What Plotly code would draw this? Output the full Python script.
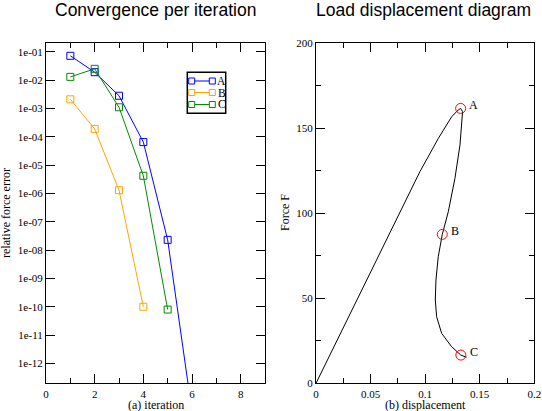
import plotly.graph_objects as go
import numpy as np

# ---- Data: convergence per iteration ----
iter_A = [1, 2, 3, 4, 5, 6]
err_A = [7.2e-2, 1.9e-2, 2.8e-3, 6.5e-5, 2.3e-8, 2.0e-14]
iter_B = [1, 2, 3, 4]
err_B = [2.1e-3, 1.9e-4, 1.3e-6, 1.0e-10]
iter_C = [1, 2, 3, 4, 5]
err_C = [1.3e-2, 2.5e-2, 1.1e-3, 4.2e-6, 8.0e-11]
series_names = ["A", "B", "C"]
series_colors = ["rgb(0,0,255)", "rgb(255,165,0)", "rgb(0,139,0)"]

# ---- Data: load displacement ----
disp = [0.0, 0.0623, 0.0769, 0.0952, 0.112, 0.1243, 0.1303, 0.1325,
        0.1343, 0.1319, 0.1273, 0.1212, 0.1157, 0.112, 0.1099, 0.1093,
        0.1105, 0.1151, 0.1243, 0.1327, 0.138]
force = [0.0, 81.0, 100.9, 124.5, 144.0, 156.8, 160.8, 161.7,
         159.8, 140.2, 120.6, 100.9, 87.6, 74.5, 60.8, 49.0,
         39.2, 29.4, 21.5, 16.6, 15.3]
pt_labels = ["A", "B", "C"]
pt_disp = [0.1325, 0.1157, 0.1327]
pt_force = [161.7, 87.6, 16.6]

W, H = 542, 411
def px(x):
    return x / W
def py(y):
    return 1 - y / H

serif = "Liberation Serif"
sans = "Liberation Sans"

fig = go.Figure()
for xs, ys, nm, col in zip([iter_A, iter_B, iter_C], [err_A, err_B, err_C], series_names, series_colors):
    fig.add_trace(go.Scatter(x=xs, y=ys, name=nm, mode="lines+markers",
                             line=dict(color=col, width=1),
                             marker=dict(symbol="square-open", size=7, color=col, line=dict(width=1, color=col)),
                             xaxis="x", yaxis="y", showlegend=False, cliponaxis=True))

fig.add_trace(go.Scatter(x=disp, y=force, mode="lines", line=dict(color="black", width=1),
                         xaxis="x2", yaxis="y2", showlegend=False))
fig.add_trace(go.Scatter(x=pt_disp, y=pt_force, mode="markers",
                         marker=dict(symbol="circle-open", size=10, color="red", line=dict(width=1, color="red")),
                         xaxis="x2", yaxis="y2", showlegend=False))

tickfont = dict(family=serif, size=11, color="black")
common = dict(showline=True, linecolor="black", linewidth=1, mirror="allticks",
              ticks="inside", ticklen=9, tickwidth=1, tickcolor="black", automargin=False,
              showgrid=False, zeroline=False, tickfont=tickfont)

dec = list(range(-1, -13, -1))
yvals = [10.0 ** d for d in dec]
ytext = ["1e-%02d" % (-d) for d in dec]

fig.update_layout(
    width=W, height=H, margin=dict(l=0, r=0, t=0, b=0, autoexpand=False),
    paper_bgcolor="white", plot_bgcolor="white",
    xaxis=dict(domain=[px(46), px(265)], range=[0, 9], dtick=2, anchor="y",
               minor=dict(ticks="inside", ticklen=5, dtick=1, tickcolor="black"), **common),
    yaxis=dict(domain=[py(383.3), py(42.7)], type="log", range=[-12.7, -0.68],
               tickvals=yvals, ticktext=ytext, anchor="x", **common),
    xaxis2=dict(domain=[px(316), px(534.3)], range=[0, 0.2], dtick=0.05, anchor="y2",
                minor=dict(ticks="inside", ticklen=5, dtick=0.025, tickcolor="black"), **common),
    yaxis2=dict(domain=[py(383.3), py(43.3)], range=[0, 200], dtick=50, anchor="x2",
                minor=dict(ticks="inside", ticklen=5, dtick=25, tickcolor="black"), **common),
)

def note(text, x, y, size, family, angle=0, xa="center", ya="middle"):
    return dict(text=text, x=px(x), y=py(y), xref="paper", yref="paper", showarrow=False,
                textangle=angle, xanchor=xa, yanchor=ya, borderpad=0,
                font=dict(family=family, size=size, color="black"))

ann = [
    note("Convergence per iteration", 155, 10, 17.5, sans),
    note("Load displacement diagram", 423, 10, 17.5, sans),
    note("(a) iteration", 155.5, 405, 12, serif),
    note("(b) displacement", 425, 405, 12, serif),
    note("relative force error", 6, 213, 12, serif, angle=-90),
    note("Force F", 285, 213, 12, serif, angle=-90),
]
for lb, xv, yv in zip(pt_labels, pt_disp, pt_force):
    ann.append(dict(text=lb, x=xv, y=yv, xref="x2", yref="y2", showarrow=False, xshift=13, yshift=3,
                    xanchor="center", yanchor="middle",
                    font=dict(family=serif, size=12, color="black")))

# custom legend
shapes = [dict(type="rect", xref="paper", yref="paper", x0=px(187.3), x1=px(225.7), y0=py(113.3), y1=py(72.3),
               line=dict(color="black", width=1.5), fillcolor="white", layer="above")]
rows = [81, 92.5, 104.5]
for nm, col, ry in zip(series_names, series_colors, rows):
    shapes.append(dict(type="line", xref="paper", yref="paper", x0=px(191.7), x1=px(212.3), y0=py(ry), y1=py(ry),
                       line=dict(color=col, width=1), layer="above"))
    for cx in (191.7, 212.3):
        shapes.append(dict(type="rect", xref="paper", yref="paper", x0=px(cx - 3), x1=px(cx + 3),
                           y0=py(ry + 3), y1=py(ry - 3), line=dict(color=col, width=1), fillcolor="white", layer="above"))
    ann.append(note(nm, 221.5, ry, 11.5, serif))

fig.update_layout(annotations=ann, shapes=shapes)
fig.write_html("out.html", config={"displayModeBar": False},
               post_script="document.body.style.margin='0';document.body.style.overflow='hidden';")
